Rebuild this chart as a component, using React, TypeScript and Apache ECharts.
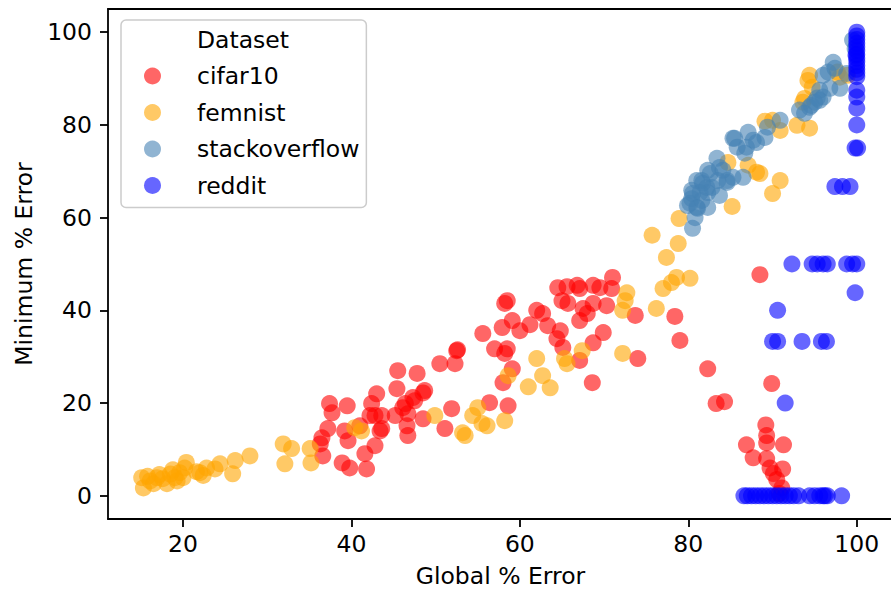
import React, { useEffect, useRef } from "react";
import * as echarts from "echarts";

// Global % error vs. minimum % error, one [x, y] pair per client run.
const seriesNames = ["cifar10", "femnist", "stackoverflow", "reddit"];
const seriesColors = ["#ff0000", "#ffa500", "#4682b4", "#0000ff"];

const cifar10: number[][] = [
  [37.4, 19.9], [37.7, 17.9], [39.5, 19.4], [37.2, 14.5], [36.5, 12.5], [36.3, 11.2], [36.6, 8.6],
  [39.2, 14.0], [39.6, 11.9], [38.9, 7.1], [39.8, 6.0], [41.8, 5.8], [41.6, 9.1], [42.8, 10.8],
  [43.4, 14.0], [43.6, 17.3], [42.8, 17.3], [42.4, 19.9], [43.0, 22.0], [45.2, 17.3], [45.4, 23.1],
  [45.5, 27.0], [41.0, 15.1], [42.2, 17.3], [43.6, 14.5], [47.8, 26.4], [46.6, 15.1], [46.7, 13.0],
  [46.1, 19.0], [46.4, 19.9], [47.3, 21.2], [47.5, 20.5], [48.7, 22.7], [48.5, 16.6], [50.5, 28.5],
  [52.3, 28.5], [52.5, 31.3], [52.6, 31.5], [51.1, 14.5], [51.9, 18.8], [55.6, 35.0], [56.4, 20.1],
  [57.0, 31.7], [57.9, 36.3], [58.2, 41.5], [58.0, 24.4], [58.2, 30.7], [48.5, 22.2], [46.7, 17.7],
  [58.6, 19.4], [58.5, 31.7], [59.1, 27.4], [59.1, 37.8], [58.5, 42.1], [60.0, 35.6], [61.2, 36.9],
  [62.0, 40.0], [62.7, 39.3], [63.3, 36.7], [64.4, 33.9], [64.8, 35.6], [65.1, 32.0], [67.1, 29.2],
  [68.6, 24.4], [68.7, 33.0], [69.9, 35.2], [65.0, 42.1], [65.7, 41.5], [64.5, 44.9], [65.6, 45.1],
  [66.8, 45.4], [67.1, 44.7], [67.5, 40.4], [67.1, 37.8], [68.0, 39.3], [68.7, 41.5], [68.7, 45.4],
  [69.5, 44.9], [70.3, 41.0], [71.0, 47.1], [70.9, 44.7], [73.7, 38.9], [74.0, 29.6], [78.4, 38.7],
  [79.0, 33.5], [82.3, 27.4], [83.3, 19.9], [84.3, 20.3], [88.5, 47.7], [89.9, 24.2], [89.2, 15.3],
  [89.3, 13.0], [86.9, 11.0], [89.3, 11.4], [91.3, 11.0], [87.7, 8.2], [89.3, 8.0], [89.7, 6.0],
  [91.2, 5.8], [90.1, 4.8], [90.5, 3.5], [91.1, 1.7], [90.8, 0.5],
];

const femnist: number[][] = [
  [15.3, 1.7], [15.1, 3.9], [16.1, 3.2], [16.9, 3.9], [17.6, 3.7], [18.1, 2.6], [18.5, 4.7],
  [19.05, 3.9], [19.6, 5.0], [20.2, 6.0], [20.0, 3.9], [19.3, 3.2], [16.5, 2.6], [17.2, 4.6],
  [18.8, 5.6], [20.4, 7.2], [15.8, 4.2], [21.6, 5.2], [22.0, 5.0], [22.8, 6.0], [23.8, 5.8],
  [24.4, 6.9], [26.2, 7.6], [27.95, 8.6], [25.9, 4.75], [22.4, 4.4], [31.9, 11.2], [32.9, 10.2],
  [32.1, 6.9], [35.1, 10.2], [35.2, 7.1], [40.4, 14.7], [41.2, 14.0], [49.9, 17.3], [53.2, 13.6],
  [53.5, 13.0], [55.0, 19.0], [54.4, 17.3], [55.5, 15.6], [56.1, 15.1], [58.2, 16.2], [58.6, 25.9],
  [61.0, 23.5], [62.7, 25.9], [63.6, 23.3], [62.0, 29.6], [65.3, 29.6], [65.6, 28.5], [67.4, 31.3],
  [72.2, 30.7], [72.7, 43.8], [72.5, 42.1], [72.2, 40.0], [76.2, 40.4], [77.4, 51.4], [77.0, 44.7],
  [78.0, 46.0], [78.6, 47.1], [80.2, 46.9], [75.7, 56.2], [78.8, 54.4], [78.9, 59.8], [85.2, 62.4],
  [84.7, 71.9], [88.5, 69.5], [88.1, 69.8], [90.9, 68.0], [90.0, 65.2], [87.1, 71.3], [90.0, 81.0],
  [90.9, 78.8], [92.9, 79.9], [94.4, 79.3], [94.2, 89.6], [94.4, 90.7], [93.8, 85.7], [93.6, 84.9],
  [94.7, 88.1], [98.0, 90.3], [98.9, 90.7], [97.7, 91.4], [89.1, 80.8],
];

const stackoverflow: number[][] = [
  [85.3, 77.1], [85.8, 75.2], [83.4, 72.8], [82.3, 70.2], [84.1, 70.2], [85.3, 68.7], [84.6, 67.6],
  [81.0, 68.0], [81.7, 67.4], [80.4, 65.9], [81.4, 65.4], [82.3, 65.4], [80.4, 64.1], [81.6, 63.7],
  [79.9, 62.6], [81.0, 62.2], [82.3, 62.2], [83.7, 64.8], [80.8, 60.0], [80.5, 57.7], [82.8, 66.5],
  [80.2, 63.1], [80.5, 65.2], [81.6, 68.0], [82.2, 66.5], [81.1, 62.0], [82.6, 69.5], [83.7, 70.8],
  [83.5, 68.0], [84.6, 68.0], [86.5, 68.7], [85.5, 77.1], [86.9, 75.2], [87.1, 78.4], [86.7, 73.9],
  [87.7, 76.7], [88.1, 76.2], [89.1, 77.3], [89.4, 79.5], [90.9, 81.0], [93.2, 83.2], [93.8, 82.5],
  [94.4, 83.8], [95.0, 84.9], [95.6, 85.3], [96.0, 86.0], [95.6, 87.5], [96.8, 87.9], [98.0, 87.9],
  [96.0, 90.7], [96.6, 91.4], [97.2, 93.5], [97.4, 92.2], [98.8, 91.1], [99.5, 98.3], [99.8, 96.5],
  [94.6, 84.2], [95.3, 85.8],
];

const reddit: number[][] = [
  [100, 100], [100, 99.2], [100, 98.4], [100, 97.6], [100, 96.8], [100, 96.0], [100, 95.2],
  [100, 94.4], [100, 93.6], [100, 92.8], [100, 92.0], [100, 91.2], [100, 90.4], [99.9, 95.0],
  [100, 87.5], [100, 86.0], [100, 83.6], [100, 80.0], [99.8, 75.0], [100.1, 75.0],
  [97.4, 66.7], [98.3, 66.7], [99.2, 66.7],
  [92.3, 50], [94.7, 50], [95.3, 50], [96.0, 50], [96.5, 50], [98.8, 50], [99.5, 50], [100, 50],
  [99.8, 43.8], [90.6, 40.0],
  [90.0, 33.3], [90.6, 33.3], [93.5, 33.3], [95.8, 33.3], [96.4, 33.3],
  [91.5, 20.0],
  [86.6, 0], [87.0, 0], [87.5, 0], [88.0, 0], [88.5, 0], [89.0, 0], [89.5, 0], [90.0, 0],
  [90.5, 0], [91.0, 0], [91.5, 0], [92.0, 0], [92.5, 0], [93.1, 0], [94.4, 0], [95.0, 0],
  [95.6, 0], [96.0, 0], [96.2, 0], [96.5, 0], [98.2, 0],
];

const seriesData = [cifar10, femnist, stackoverflow, reddit];
const xTicks = [20, 40, 60, 80, 100];
const yTicks = [0, 20, 40, 60, 80, 100];
const X_MIN = 11.1;
const X_MAX = 104.3;

const FONT = "DejaVu Sans";
const FS = 23.5;

const App = () => {
  const ref = useRef<HTMLDivElement>(null);

  useEffect(() => {
    if (!ref.current) return;
    const chart = echarts.init(ref.current, null, { renderer: "svg" });

    const spine = { show: true, onZero: false, lineStyle: { color: "#000", width: 1.8 } };
    const tick = { show: true, length: 8, lineStyle: { color: "#000", width: 1.8 } };
    const labelStyle = { fontFamily: FONT, fontSize: FS, color: "#000" };

    chart.setOption({
      animation: false,
      backgroundColor: "#ffffff",
      grid: {
        left: 108,
        top: 9,
        width: 785,
        height: 510,
        containLabel: false,
        outerBoundsMode: "none",
      },
      xAxis: [
        {
          type: "value",
          min: X_MIN,
          max: X_MAX,
          splitLine: { show: false },
          axisLine: spine,
          axisTick: { ...tick, customValues: xTicks },
          axisLabel: { ...labelStyle, customValues: xTicks, margin: 13 },
          name: "Global % Error",
          nameLocation: "middle",
          nameGap: 45,
          nameTextStyle: { ...labelStyle, lineHeight: 24 },
        },
        {
          // top spine of the frame
          type: "value",
          position: "top",
          min: X_MIN,
          max: X_MAX,
          splitLine: { show: false },
          axisLine: spine,
          axisTick: { show: false },
          axisLabel: { show: false },
        },
      ],
      yAxis: {
        type: "value",
        min: -5,
        max: 105,
        splitLine: { show: false },
        axisLine: spine,
        axisTick: { ...tick, customValues: yTicks },
        axisLabel: { ...labelStyle, customValues: yTicks, margin: 16 },
        name: "Minimum % Error",
        nameLocation: "middle",
        nameGap: 71,
        nameTextStyle: labelStyle,
      },
      legend: {
        orient: "vertical",
        left: 121,
        top: 20,
        padding: [44, 7, 10, 23],
        itemWidth: 17,
        itemHeight: 17,
        itemGap: 12.5,
        icon: "circle",
        backgroundColor: "rgba(255,255,255,0.8)",
        borderColor: "#cccccc",
        borderWidth: 1.5,
        borderRadius: 5,
        data: seriesNames,
        textStyle: {
          ...labelStyle,
          lineHeight: 22,
          padding: [0, 0, 0, 31],
        },
      },
      graphic: [
        {
          type: "text",
          left: 197,
          top: 28,
          z: 200,
          style: { text: "Dataset", fontFamily: FONT, fontSize: FS, fill: "#000" },
        },
      ],
      series: seriesNames.map((name, i) => ({
        name,
        type: "scatter",
        xAxisIndex: 0,
        data: seriesData[i],
        symbol: "circle",
        symbolSize: 17,
        itemStyle: { color: seriesColors[i], opacity: 0.6, borderWidth: 0 },
        emphasis: { disabled: true },
      })),
    });

    return () => chart.dispose();
  }, []);

  return (
    <div
      ref={ref}
      style={{ position: "absolute", left: 0, top: 0, width: 891, height: 589, background: "#fff" }}
    />
  );
};

export default App;
